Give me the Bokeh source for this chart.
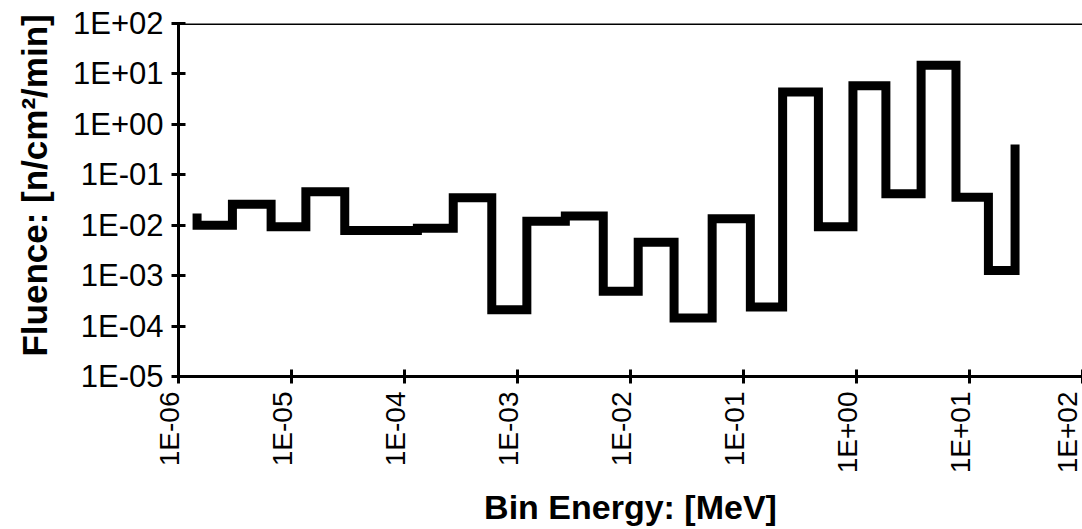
import math
from bokeh.plotting import figure
from bokeh.models import FixedTicker, Span
from bokeh.embed import file_html
from bokeh.resources import INLINE

# ---- data ----
# bin edges [MeV]
edges_mev = [1.46e-6, 3.0e-6, 6.6e-6, 1.34e-5, 2.96e-5, 1.30e-4, 2.70e-4, 5.92e-4,
             1.21e-3, 2.65e-3, 5.74e-3, 1.17e-2, 2.43e-2, 5.28e-2, 0.115, 0.222,
             0.46, 0.93, 1.82, 3.73, 7.59, 14.7, 25.3]
# fluence per bin [n/cm2/min]
fluence = [1.0e-2, 2.6e-2, 9.3e-3, 4.6e-2, 7.9e-3, 8.7e-3, 3.5e-2, 2.1e-4,
           1.2e-2, 1.53e-2, 4.9e-4, 4.6e-3, 1.45e-4, 1.35e-2, 2.4e-4, 4.4,
           9.3e-3, 5.8, 4.2e-2, 14.9, 3.6e-2, 1.27e-3]
start_value = 1.7e-2
end_value = 0.40

x_ticks = [1e-6, 1e-5, 1e-4, 1e-3, 1e-2, 1e-1, 1e0, 1e1, 1e2]
x_tick_labels = ["1E-06", "1E-05", "1E-04", "1E-03", "1E-02", "1E-01", "1E+00", "1E+01", "1E+02"]
y_ticks = [1e-5, 1e-4, 1e-3, 1e-2, 1e-1, 1e0, 1e1, 1e2]
y_tick_labels = ["1E-05", "1E-04", "1E-03", "1E-02", "1E-01", "1E+00", "1E+01", "1E+02"]
x_title = "Bin Energy: [MeV]"
y_title = "Fluence: [n/cm\u00b2/min]"

# ---- build step path ----
xs = [edges_mev[0]]
ys = [start_value]
for i, v in enumerate(fluence):
    xs += [edges_mev[i], edges_mev[i + 1]]
    ys += [v, v]
xs.append(edges_mev[-1])
ys.append(end_value)

FONT = "Liberation Sans"

p = figure(width=1082, height=529, x_axis_type="log", y_axis_type="log",
           x_range=(1e-6, 1e2), y_range=(1e-5, 1e2),
           output_backend="svg", toolbar_location=None,
           min_border_left=178, min_border_right=0,
           min_border_top=23, min_border_bottom=152)
p.outline_line_color = None
p.background_fill_color = "white"
p.border_fill_color = "white"
p.grid.visible = False

p.line(xs, ys, line_color="black", line_width=9, line_join="miter", line_cap="butt")

p.add_layout(Span(location=1e2, dimension="width", line_color="black", line_width=3))

p.xaxis.ticker = FixedTicker(ticks=x_ticks)
p.yaxis.ticker = FixedTicker(ticks=y_ticks)
# rotated labels sit just left of their ticks, as in the reference
# (the last one, at the right edge of the page, already is)
x_overrides = {t: lab + "\n" for t, lab in zip(x_ticks, x_tick_labels)}
x_overrides[x_ticks[-1]] = x_tick_labels[-1]
p.xaxis.major_label_overrides = x_overrides
p.yaxis.major_label_overrides = dict(zip(y_ticks, y_tick_labels))
p.xaxis.major_label_orientation = math.pi / 2

for ax in (p.xaxis, p.yaxis):
    ax.axis_line_color = "black"
    ax.axis_line_width = 3
    ax.major_tick_line_color = "black"
    ax.major_tick_line_width = 3
    ax.major_tick_in = 7
    ax.major_tick_out = 7
    ax.minor_tick_line_color = None
    ax.major_label_text_font = FONT
    ax.major_label_text_color = "black"
    ax.major_label_standoff = 8
    ax.axis_label_text_font = FONT
    ax.axis_label_text_font_style = "bold"
    ax.axis_label_text_color = "black"

p.xaxis.major_label_text_font_size = "28px"
p.xaxis.major_label_text_line_height = 0.55
p.yaxis.major_label_text_font_size = "31px"
p.xaxis.axis_label_text_font_size = "34px"
p.yaxis.axis_label_text_font_size = "35px"
p.xaxis.axis_label = x_title
p.yaxis.axis_label = "\u00a0\u00a0\u00a0" + y_title
p.xaxis.axis_label_standoff = 12
p.yaxis.axis_label_standoff = 16

open("out.html", "w").write(file_html(p, INLINE))
